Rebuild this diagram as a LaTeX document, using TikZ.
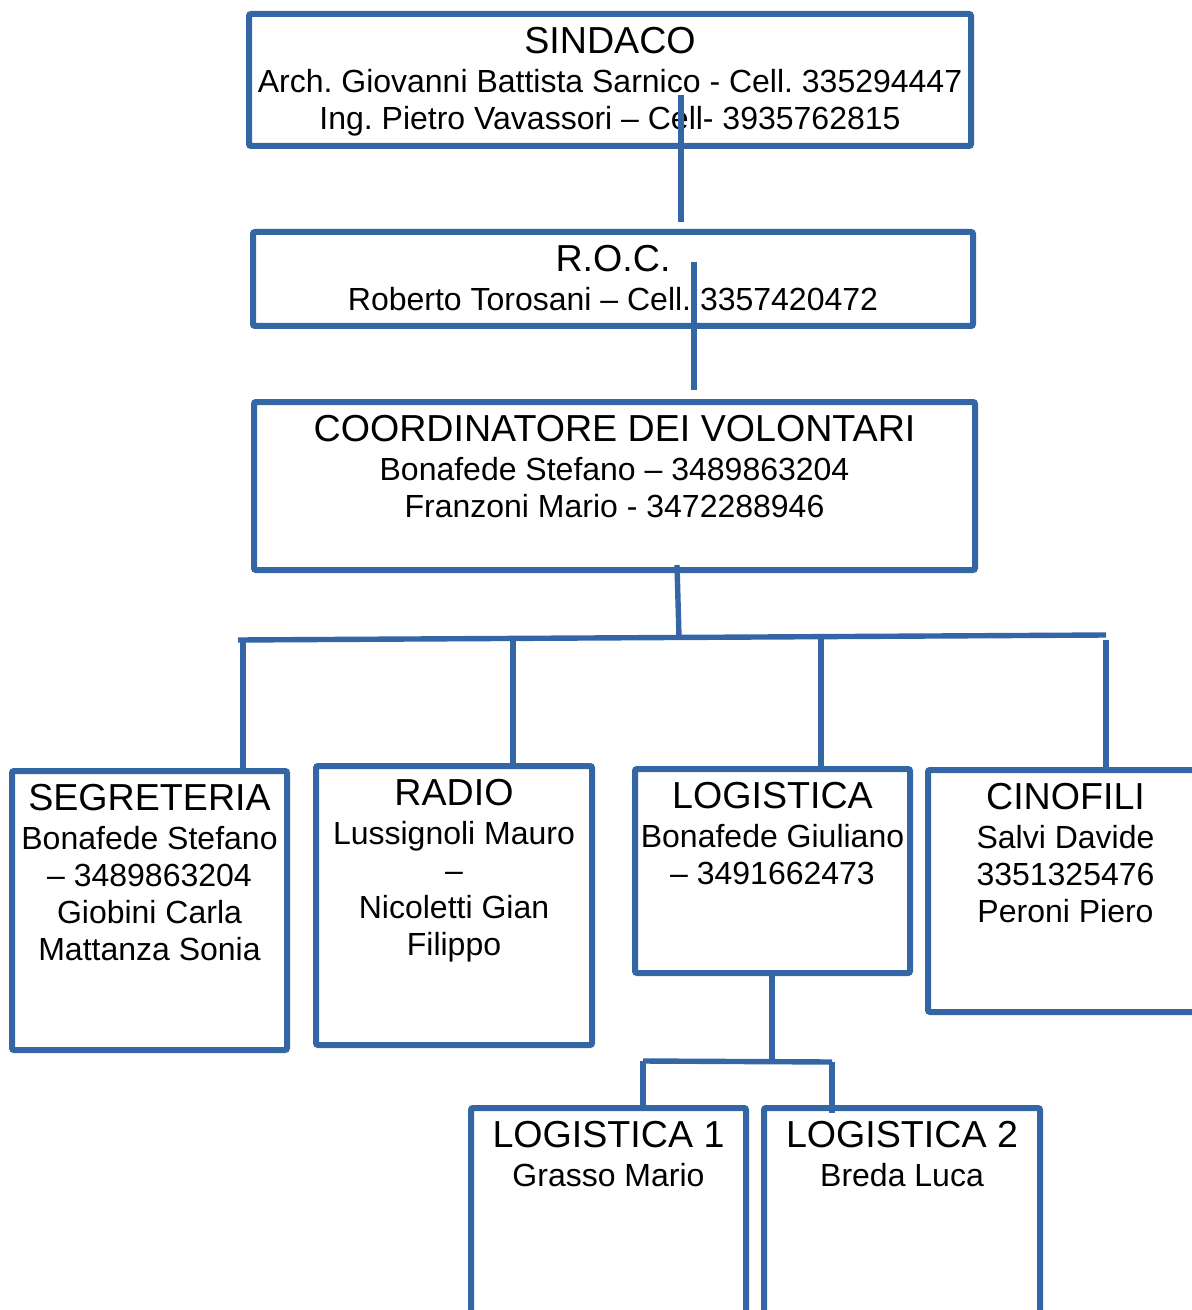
\documentclass[tikz,border=0pt]{standalone}
\usepackage{fontspec}
\setmainfont{Liberation Sans}
\usepackage{tikz}
\usetikzlibrary{positioning}
\frenchspacing

\definecolor{boxblue}{RGB}{52,101,164}

% one line drawn larger for the office name
\newcommand{\ttl}[1]{{\fontsize{18.8}{22}\selectfont #1}\\[1pt]}

\tikzset{
  box/.style={draw=boxblue, line width=3pt, rounded corners=1pt, inner sep=0pt, minimum width=137.5pt},
  txt/.style={anchor=north, align=center, inner sep=0pt, yshift=-8pt, font=\fontsize{16}{18.5}\selectfont},
  link/.style={draw=boxblue, line width=2.7pt}
}

\begin{document}
\begin{tikzpicture}[x=0.5pt, y=-0.5pt]
  \useasboundingbox (0,0) rectangle (1192,1310);
  \clip (0,0) rectangle (1192,1310);

  % boxes
  \node[box, minimum width=361pt, minimum height=66pt] (sindaco) at (610,80) {};
  \node[box, minimum width=360pt, minimum height=47pt] (roc) at (613,279) {};
  \node[box, minimum width=360.5pt, minimum height=84pt] (coord) at (614.5,486) {};
  \node[box, minimum height=139.5pt] (segreteria) at (149.5,910.5) {};
  \node[box, minimum width=138pt, minimum height=139.5pt] (radio) at (454,905.5) {};
  \node[box, minimum height=102pt] (logistica) at (772.5,871) {};
  \node[box, minimum height=121pt] (cinofili) at (1065.5,891) {};
  \node[box, minimum height=150pt] (logA) at (608.5,1258) {};
  \node[box, minimum width=138pt, minimum height=150pt] (logB) at (902,1258) {};

  % texts
  \node[txt] (sindacoT) at (sindaco.north) {\ttl{SINDACO}Arch. Giovanni Battista Sarnico - Cell. 335294447\\Ing. Pietro Vavassori – Cell- 3935762815};
  \node[txt] (rocT) at (roc.north) {\ttl{R.O.C.}Roberto Torosani – Cell. 3357420472};
  \node[txt] (coordT) at (coord.north) {\ttl{COORDINATORE DEI VOLONTARI}Bonafede Stefano – 3489863204\\Franzoni Mario - 3472288946};
  \node[txt] (segreteriaT) at (segreteria.north) {\ttl{SEGRETERIA}Bonafede Stefano\\– 3489863204\\Giobini Carla\\Mattanza Sonia};
  \node[txt] (radioT) at (radio.north) {\ttl{RADIO}Lussignoli Mauro\\–\\Nicoletti Gian\\Filippo};
  \node[txt] (logisticaT) at (logistica.north) {\ttl{LOGISTICA}Bonafede Giuliano\\– 3491662473};
  \node[txt] (cinofiliT) at (cinofili.north) {\ttl{CINOFILI}Salvi Davide\\3351325476\\Peroni Piero};
  \node[txt] (logAT) at (logA.north) {\ttl{LOGISTICA 1}Grasso Mario};
  \node[txt] (logBT) at (logB.north) {\ttl{LOGISTICA 2}Breda Luca};

  % connector ends
  \coordinate (s1) at (681,95);
  \coordinate (s2) at (681,222);
  \coordinate (r1) at (694,262);
  \coordinate (r2) at (694,390);
  \coordinate (c1) at (677,565);
  \coordinate (c2) at (679,637);
  \coordinate (busL) at (238,640);
  \coordinate (busR) at (1106,635);
  \coordinate (b1) at (243,640);
  \coordinate (b2) at (513,639);
  \coordinate (b3) at (821,637);
  \coordinate (b4) at (1106,640);
  \coordinate (l1) at (772,973);
  \coordinate (l2) at (772,1061);
  \coordinate (subL) at (643,1061);
  \coordinate (subR) at (832,1062);

  % connectors
  \draw[link] (s1) -- (s2);
  \draw[link] (r1) -- (r2);
  \draw[link] (c1) -- (c2);
  \draw[link] (busL) -- (busR);
  \draw[link] (b1) -- (b1 |- segreteria.north);
  \draw[link] (b2) -- (b2 |- radio.north);
  \draw[link] (b3) -- (b3 |- logistica.north);
  \draw[link] (b4) -- (b4 |- cinofili.north);
  \draw[link] (l1) -- (l2);
  \draw[link] (subL) -- (subR);
  \draw[link] (subL) -- (subL |- logA.north);
  \draw[link] (subR) -- ([yshift=-4pt]subR |- logB.north);
\end{tikzpicture}
\end{document}
